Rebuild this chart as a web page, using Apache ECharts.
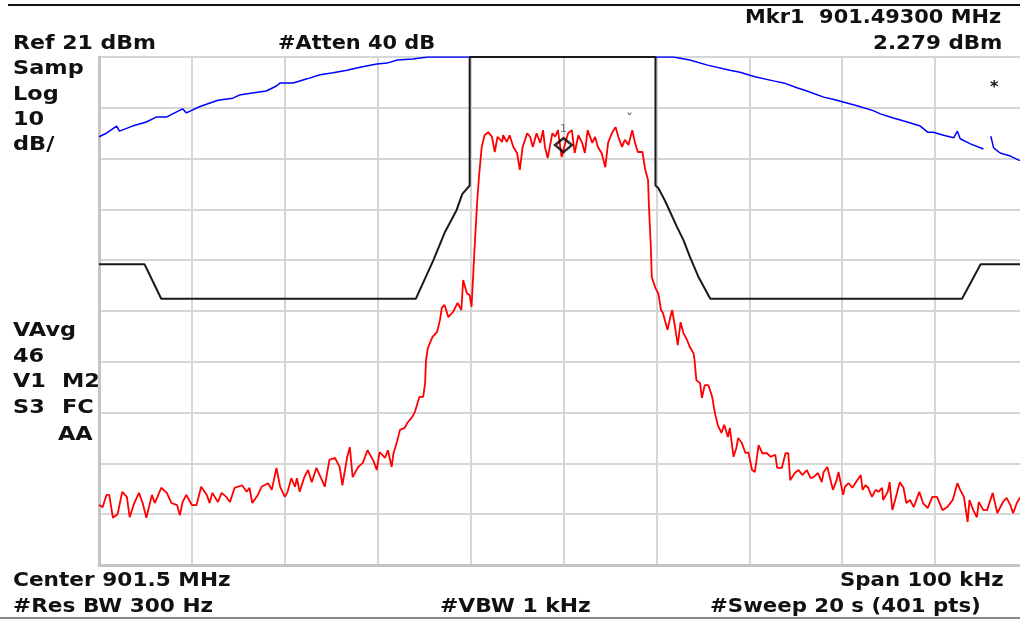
<!DOCTYPE html>
<html>
<head>
<meta charset="utf-8">
<script src="https://cdn.jsdelivr.net/npm/echarts@6/dist/echarts.min.js"></script>
<style>
html,body{margin:0;padding:0;background:#fff;overflow:hidden;}
#chart{width:1040px;height:621px;}
</style>
</head>
<body>
<div id="chart"></div>
<script>
const redFreq = [-50.0,-49.6,-49.2,-48.9,-48.5,-48.0,-47.5,-47.0,-46.7,-46.2,
-45.7,-45.3,-44.9,-44.3,-44.0,-43.7,-43.3,-42.7,-42.2,-41.6,
-41.3,-41.0,-40.6,-40.0,-39.5,-39.0,-38.4,-38.1,-37.8,-37.2,
-36.8,-36.3,-35.9,-35.4,-34.6,-34.1,-33.8,-33.5,-32.9,-32.5,
-31.8,-31.4,-30.9,-30.5,-30.0,-29.7,-29.3,-28.9,-28.7,-28.4,
-27.9,-27.5,-27.1,-26.6,-26.0,-25.7,-25.2,-24.6,-24.1,-23.8,
-23.3,-23.0,-22.7,-22.1,-21.6,-21.1,-20.5,-20.1,-19.8,-19.2,
-18.9,-18.5,-18.3,-17.9,-17.6,-17.1,-16.8,-16.3,-16.0,-15.5,
-15.1,-14.9,-14.8,-14.6,-14.1,-13.6,-13.3,-13.1,-12.8,-12.4,
-11.9,-11.4,-11.0,-10.8,-10.4,-10.1,-9.9,-9.6,-9.3,-9.1,
-8.8,-8.5,-8.1,-7.7,-7.4,-7.1,-6.6,-6.5,-6.1,-5.8,
-5.4,-5.0,-4.7,-4.4,-3.9,-3.6,-3.3,-2.9,-2.5,-2.2,
-2.0,-1.7,-1.2,-0.9,-0.6,-0.2,0.2,0.5,0.9,1.2,
1.6,2.0,2.3,2.6,3.1,3.4,3.7,4.1,4.5,4.8,
5.2,5.6,5.9,6.3,6.6,7.0,7.4,7.7,8.0,8.5,
8.8,9.1,9.2,9.4,9.5,9.9,10.2,10.5,10.7,11.2,
11.5,11.7,12.0,12.3,12.6,12.9,13.3,13.6,14.0,14.1,
14.3,14.7,14.9,15.2,15.6,16.0,16.3,16.6,17.0,17.3,
17.7,17.9,18.3,18.6,18.8,19.2,19.6,19.9,20.3,20.6,
21.0,21.4,21.9,22.3,22.8,23.0,23.5,23.9,24.2,24.4,
24.9,25.3,25.7,26.2,26.6,26.9,27.4,27.8,28.0,28.4,
29.0,29.4,29.6,30.1,30.3,30.7,31.1,31.4,32.0,32.2,
32.5,32.8,33.2,33.6,33.9,34.3,34.4,34.9,35.1,35.4,
35.7,36.2,36.6,36.9,37.3,37.7,38.1,38.3,38.7,39.2,
39.7,40.2,40.8,41.3,41.9,42.4,42.7,43.1,43.5,43.7,
44.1,44.5,44.7,45.2,45.6,46.2,46.7,47.3,47.7,48.1,
48.4,48.8,49.1,50.0];
const redLevel = [-67.2,-67.6,-65.2,-65.2,-69.7,-69.0,-64.6,-65.6,-69.6,-66.8,
-64.8,-66.8,-69.7,-65.2,-66.8,-65.6,-63.8,-64.8,-66.8,-67.2,
-69.2,-66.6,-65.2,-67.2,-67.2,-63.6,-65.2,-66.8,-64.8,-66.6,
-64.8,-65.6,-66.6,-63.8,-63.3,-64.6,-63.8,-66.8,-65.2,-63.6,
-62.9,-64.2,-59.9,-63.6,-65.6,-64.6,-61.9,-63.6,-61.9,-64.6,
-61.7,-60.3,-62.7,-59.9,-62.3,-63.6,-58.3,-57.9,-59.7,-63.3,
-57.9,-55.8,-61.7,-59.7,-58.9,-56.4,-58.3,-60.3,-56.8,-57.9,
-56.4,-59.7,-57.0,-54.6,-52.4,-52.0,-51.0,-49.9,-48.9,-45.9,
-45.9,-43.2,-38.6,-36.3,-34.1,-33.1,-30.8,-28.4,-27.8,-30.2,
-29.2,-27.4,-28.8,-22.9,-25.5,-25.9,-28.2,-17.6,-7.7,-2.6,
3.3,5.6,6.2,5.3,2.3,5.3,4.3,5.6,4.3,5.6,
3.3,2.1,-1.2,3.3,6.0,5.3,3.3,6.0,4.1,6.6,
3.3,1.1,6.0,5.3,6.6,1.3,4.1,6.0,6.6,2.1,
5.6,4.1,2.1,6.6,4.1,5.3,3.3,2.1,-0.7,4.1,
6.0,7.2,5.3,3.3,4.7,3.7,6.6,4.1,2.3,2.3,
-1.2,-3.2,-8.5,-16.4,-22.3,-24.5,-25.5,-28.8,-29.4,-32.7,
-30.2,-28.8,-32.1,-35.7,-31.2,-33.3,-34.7,-36.1,-37.3,-38.6,
-42.6,-43.2,-46.1,-43.6,-43.6,-45.9,-49.1,-51.4,-53.0,-51.4,
-53.8,-52.0,-57.7,-56.0,-54.0,-55.0,-57.0,-56.8,-60.3,-60.7,
-55.4,-57.0,-57.0,-57.7,-57.3,-59.9,-59.9,-57.0,-57.0,-62.3,
-60.9,-60.3,-61.3,-60.3,-61.9,-61.7,-60.9,-62.7,-60.7,-59.7,
-64.2,-62.3,-60.7,-65.2,-63.6,-62.9,-63.8,-62.9,-61.3,-64.2,
-63.3,-63.8,-65.6,-64.2,-64.6,-63.8,-66.2,-64.6,-62.7,-68.2,
-66.2,-62.7,-63.8,-66.8,-66.2,-67.6,-65.6,-64.6,-66.8,-67.8,
-65.6,-65.6,-68.2,-67.6,-66.2,-62.9,-64.2,-65.6,-70.5,-66.2,
-68.2,-69.6,-66.6,-68.2,-68.2,-64.8,-68.8,-66.6,-65.8,-67.2,
-68.8,-66.8,-65.8,-66.5];

const blueFreq = [-50.0,-49.2,-48.1,-47.8,-46.4,-44.9,-43.8,-42.7,-41.0,-40.6,
-39.2,-37.2,-35.6,-34.9,-33.5,-32.0,-30.9,-30.5,-29.1,-27.6,
-26.2,-24.8,-23.3,-21.9,-20.1,-19.0,-17.9,-16.2,-14.6,9.9,
11.8,13.6,15.5,17.9,19.0,20.6,22.6,23.7,25.2,26.2,
28.0,29.0,30.6,31.6,33.4,34.1,35.5,37.0,38.4,39.2,
39.8,40.9,42.0,42.4,42.7,43.8,45.2,45.6,46.0,46.3,
47.0,48.1,49.0,50.0];
const blueLevel = [5.3,6.0,7.4,6.4,7.4,8.2,9.2,9.2,10.8,10.0,
11.2,12.5,12.9,13.5,13.9,14.3,15.3,15.9,15.9,16.7,
17.5,17.9,18.4,19.0,19.6,19.8,20.4,20.6,21,21,
21,20.4,19.4,18.4,18.0,17.1,16.3,15.9,14.9,14.3,
13.1,12.7,11.9,11.4,10.4,9.8,9.0,8.2,7.4,6.2,
6.2,5.6,5.1,6.4,4.9,3.9,2.9,null,5.4,3.1,
2.1,1.5,0.7,0.4];

const blackFreq = [-50.0,-45.1,-43.3,-15.9,-14.0,-12.8,-11.5,-10.9,-10.1,-10.1,
9.9,9.9,10.2,10.9,12.2,12.9,13.6,14.5,15.8,42.9,44.9,50.0];
const blackLevel = [-19.8,-19.8,-26.6,-26.6,-19.0,-13.6,-9.1,-6.0,-4.3,21,
21,-4.3,-4.8,-7.2,-12.4,-15.0,-18.3,-22.2,-26.6,-26.6,-19.8,-19.8];

const marker = { freq: 0, level: 2.279 };

const refLevel = 21;   // dBm
const dbPerDiv = 10;
const spanKHz = 100;

function pairs(xs, ys) {
  return xs.map((x, i) => [x, ys[i] === null ? '-' : ys[i]]);
}

const chart = echarts.init(document.getElementById('chart'), null, { renderer: 'canvas' });

const F = 'bold 19px "DejaVu Sans", Verdana, sans-serif';
function txt(text, left, cy, opts) {
  opts = opts || {};
  return {
    type: 'text', x: left, y: cy, scaleX: opts.sx || 1.13,
    style: { text: text, font: opts.font || F, fill: opts.fill || '#111', verticalAlign: 'middle', align: 'left' },
    z: 100
  };
}

const option = {
  backgroundColor: '#ffffff',
  animation: false,
  grid: { left: 99, top: 57, width: 929, height: 508, containLabel: false },
  xAxis: {
    type: 'value', min: -spanKHz / 2, max: spanKHz / 2, interval: 10,
    axisLine: { show: true, onZero: false, lineStyle: { color: '#c4c4c4', width: 3 } },
    axisTick: { show: false }, axisLabel: { show: false },
    splitLine: { show: true, lineStyle: { color: '#d6d6d6', width: 2 } }
  },
  yAxis: {
    type: 'value', min: refLevel - 10 * dbPerDiv, max: refLevel, interval: dbPerDiv,
    axisLine: { show: true, onZero: false, lineStyle: { color: '#c4c4c4', width: 3 } },
    axisTick: { show: false }, axisLabel: { show: false },
    splitLine: { show: true, lineStyle: { color: '#d6d6d6', width: 2 } }
  },
  series: [
    {
      type: 'line', data: pairs(blueFreq, blueLevel), showSymbol: false, connectNulls: false,
      lineStyle: { color: '#0000ff', width: 1.5 }, z: 2, clip: true
    },
    {
      type: 'line', data: pairs(blackFreq, blackLevel), showSymbol: false,
      lineStyle: { color: '#1a1a1a', width: 2 }, z: 3, clip: true
    },
    {
      type: 'line', data: pairs(redFreq, redLevel), showSymbol: false,
      lineStyle: { color: '#ff0000', width: 1.8 }, z: 4, clip: true
    },
    {
      type: 'scatter', data: [[marker.freq, marker.level]], symbol: 'diamond',
      symbolSize: [17, 14], symbolOffset: [0, -7],
      itemStyle: { color: 'rgba(0,0,0,0)', borderColor: '#000', borderWidth: 2.5 }, z: 6,
      label: { show: true, formatter: '1', position: 'top', distance: 2, color: '#555', fontSize: 11, fontFamily: 'DejaVu Sans' }
    }
  ],
  graphic: [
    { type: 'line', shape: { x1: 8, y1: 5, x2: 1040, y2: 5 }, style: { stroke: '#111', lineWidth: 2 } },
    { type: 'line', shape: { x1: 0, y1: 618, x2: 1040, y2: 618 }, style: { stroke: '#888', lineWidth: 2 } },
    txt('Mkr1  901.49300 MHz', 745, 18, { sx: 1.1 }),
    txt('Ref 21 dBm', 13, 44, { sx: 1.16 }),
    txt('#Atten 40 dB', 278, 44, { sx: 1.1 }),
    txt('2.279 dBm', 873, 44, { sx: 1.13 }),
    txt('Samp', 13, 69, { sx: 1.18 }),
    txt('Log', 13, 95, { sx: 1.18 }),
    txt('10', 13, 120, { sx: 1.18 }),
    txt('dB/', 13, 145, { sx: 1.18 }),
    txt('VAvg', 13, 331, { sx: 1.18 }),
    txt('46', 13, 357, { sx: 1.18 }),
    txt('V1', 13, 382, { sx: 1.18 }),
    txt('M2', 62, 382, { sx: 1.18 }),
    txt('S3', 13, 408, { sx: 1.18 }),
    txt('FC', 62, 408, { sx: 1.18 }),
    txt('AA', 58, 435, { sx: 1.18 }),
    txt('Center 901.5 MHz', 13, 581, { sx: 1.14 }),
    txt('Span 100 kHz', 840, 581, { sx: 1.12 }),
    txt('#Res BW 300 Hz', 13, 607, { sx: 1.14 }),
    txt('#VBW 1 kHz', 440, 607, { sx: 1.15 }),
    txt('#Sweep 20 s (401 pts)', 710, 607, { sx: 1.12 }),
    txt('*', 990, 88, { font: 'bold 16px "DejaVu Sans"', sx: 1 }),
    txt('ˇ', 626, 120, { font: '14px "DejaVu Sans"', sx: 1, fill: '#444' })
  ]
};
chart.setOption(option);
</script>
</body>
</html>
